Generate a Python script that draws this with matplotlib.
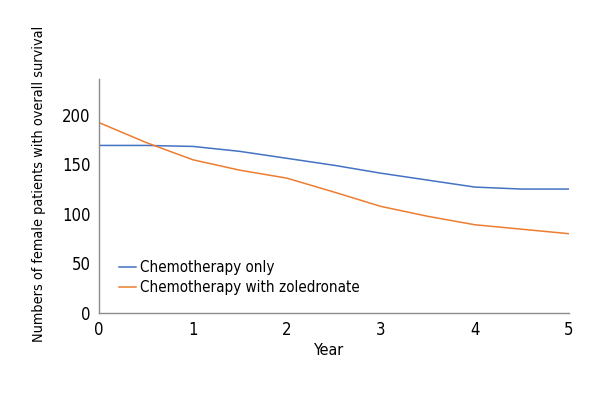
import matplotlib
matplotlib.use("Agg")
import matplotlib.pyplot as plt

years = [0, 0.5, 1, 1.5, 2, 2.5, 3, 3.5, 4, 4.5, 5]
chemo_only = [169, 169, 168, 163, 156, 149, 141, 134, 127, 125, 125]
chemo_zol = [192, 172, 154.5, 144, 136, 122, 107.5, 97.5, 89, 84.5, 80]
labels = ["Chemotherapy only", "Chemotherapy with zoledronate"]

plt.rcParams["font.family"] = ["DejaVu Sans"]
plt.rcParams["font.stretch"] = "condensed"

fig = plt.figure(figsize=(6, 4), dpi=100)
ax = fig.add_axes([0.165, 0.2175, 0.783, 0.585])
ax.plot(years, chemo_only, color="#4472C4", lw=1.1, label=labels[0])
ax.plot(years, chemo_zol, color="#ED7D31", lw=1.1, label=labels[1])
ax.set_xlim(0, 5)
ax.set_ylim(0, 236)
ax.set_yticks([0, 50, 100, 150, 200])
ax.set_xticks([0, 1, 2, 3, 4, 5])
for s in ["top", "right"]:
    ax.spines[s].set_visible(False)
for s in ["left", "bottom"]:
    ax.spines[s].set_color("#8c8c8c")
    ax.spines[s].set_linewidth(1)
ax.tick_params(length=0, labelsize=12, pad=6)
ax.set_xlabel("Year", fontsize=11.5)
ax.xaxis.set_label_coords(0.49, -0.13)
ax.set_ylabel("Numbers of female patients with overall survival", fontsize=10.4)
ax.yaxis.set_label_coords(-0.112, 0.55)
leg = ax.legend(loc="lower left", bbox_to_anchor=(0.02, 0.03), frameon=False, fontsize=10.9,
                handlelength=1.1, handletextpad=0.3, labelspacing=0.35, borderpad=0.2)
fig.savefig("out.png", dpi=100)
